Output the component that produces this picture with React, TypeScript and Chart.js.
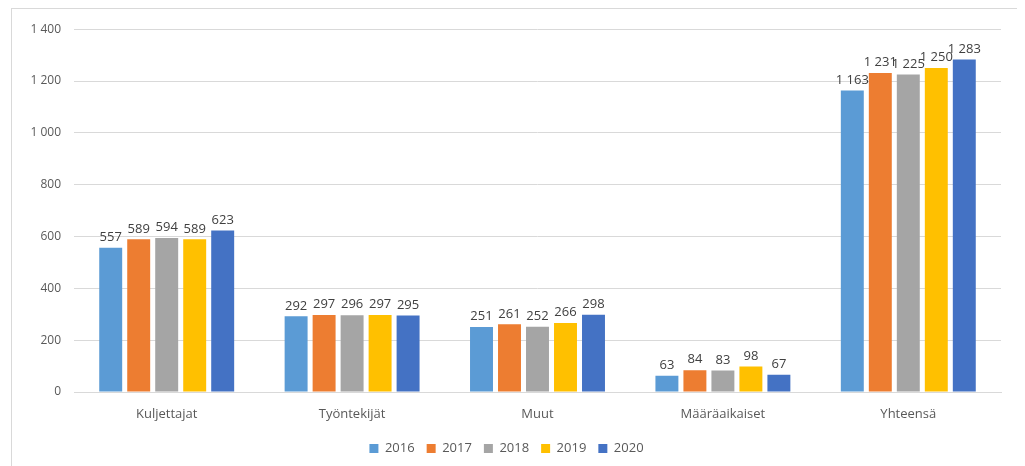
import React, { useEffect, useRef } from "react";
import { Chart, registerables } from "chart.js";

Chart.register(...registerables);

const categories = ["Kuljettajat", "Työntekijät", "Muut", "Määräaikaiset", "Yhteensä"];
const years = ["2016", "2017", "2018", "2019", "2020"];
const values2016 = [557, 292, 251, 63, 1163];
const values2017 = [589, 297, 261, 84, 1231];
const values2018 = [594, 296, 252, 83, 1225];
const values2019 = [589, 297, 266, 98, 1250];
const values2020 = [623, 295, 298, 67, 1283];
const seriesValues = [values2016, values2017, values2018, values2019, values2020];
const colors = ["#5B9BD5", "#ED7D31", "#A5A5A5", "#FFC000", "#4472C4"];

const fmt = (n: number) => {
  const s = String(Math.round(n));
  return s.replace(/\B(?=(\d{3})+(?!\d))/g, " ");
};

const FONT = "'Open Sans', 'Liberation Sans', sans-serif";

const labelPlugin = {
  id: "barLabels",
  afterDatasetsDraw(chart: any) {
    const ctx = chart.ctx;
    ctx.save();
    ctx.font = `13px ${FONT}`;
    ctx.fillStyle = "#404040";
    ctx.textAlign = "center";
    ctx.textBaseline = "bottom";
    chart.data.datasets.forEach((ds: any, i: number) => {
      const meta = chart.getDatasetMeta(i);
      meta.data.forEach((el: any, j: number) => {
        ctx.fillText(fmt(ds.data[j]), el.x, el.y - 4);
      });
    });
    ctx.restore();
  },
};

export default function App() {
  const ref = useRef<HTMLCanvasElement | null>(null);
  useEffect(() => {
    document.body.style.overflow = "hidden";
    const chart = new Chart(ref.current!, {
      type: "bar",
      data: {
        labels: categories,
        datasets: years.map((y, i) => ({
          label: y,
          data: seriesValues[i],
          backgroundColor: colors[i],
          borderWidth: 0,
          categoryPercentage: 0.755,
          barPercentage: 0.82,
        })),
      },
      options: {
        animation: false,
        responsive: false,
        maintainAspectRatio: false,
        layout: { padding: { left: 0, right: 19, top: 19, bottom: 2 } },
        plugins: {
          tooltip: { enabled: false },
          legend: {
            position: "bottom",
            labels: {
              boxWidth: 9,
              boxHeight: 9,
              padding: 12,
              color: "#595959",
              font: { size: 13, family: FONT },
            },
          },
        },
        scales: {
          x: {
            grid: { display: false, drawTicks: false },
            border: { display: true, color: "#d9d9d9" },
            ticks: { color: "#595959", font: { size: 13, family: FONT }, padding: 14 },
            afterFit: (s: any) => {
              s.height = 38;
            },
          },
          y: {
            min: 0,
            max: 1400,
            ticks: {
              stepSize: 200,
              padding: 13,
              color: "#595959",
              font: { size: 12, family: FONT },
              callback: (v: any) => fmt(Number(v)),
            },
            grid: { color: "#d9d9d9", drawTicks: false },
            border: { display: false },
            afterFit: (s: any) => {
              s.width = 62;
            },
          },
        },
      },
      plugins: [labelPlugin],
    } as any);
    return () => chart.destroy();
  }, []);
  return (
    <div
      style={{
        marginLeft: 3,
        width: 1008,
        height: 458,
        borderTop: "1px solid #d9d9d9",
        borderLeft: "1px solid #d9d9d9",
        borderRight: "1px solid #d9d9d9",
        background: "#fff",
      }}
    >
      <canvas ref={ref} width={1008} height={458} style={{ display: "block" }} />
    </div>
  );
}
